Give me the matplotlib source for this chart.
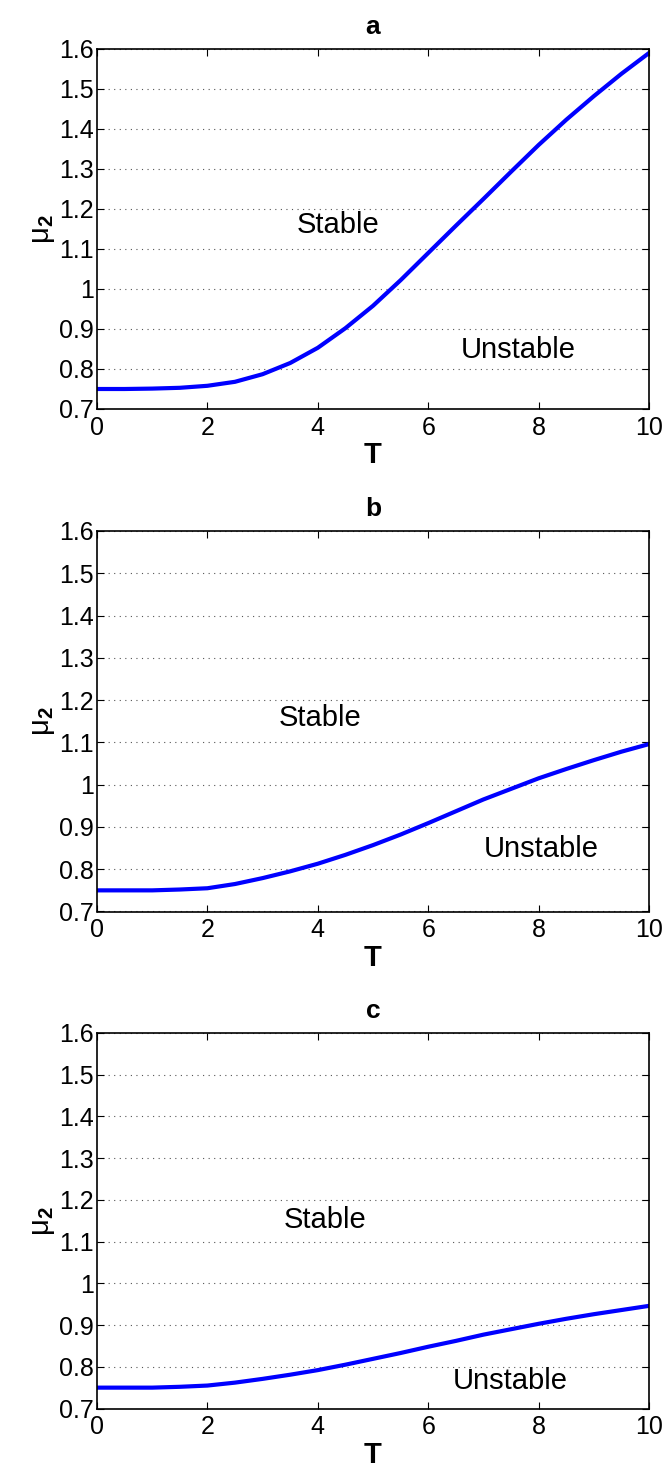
import numpy as np
import matplotlib.pyplot as plt

plt.rcParams['font.family'] = ['Liberation Sans', 'DejaVu Sans']
plt.rcParams['mathtext.fontset'] = 'custom'
plt.rcParams['mathtext.rm'] = 'Liberation Sans'
plt.rcParams['mathtext.bf'] = 'Liberation Sans:bold'

# Data (T in steps of 0.5)
T = [0, 0.5, 1, 1.5, 2, 2.5, 3, 3.5, 4, 4.5, 5, 5.5, 6, 6.5, 7, 7.5, 8, 8.5, 9, 9.5, 10]
mu2_a = [0.750, 0.750, 0.751, 0.753, 0.758, 0.768, 0.787, 0.815, 0.853, 0.902, 0.958,
         1.022, 1.090, 1.158, 1.225, 1.293, 1.360, 1.423, 1.482, 1.538, 1.590]
mu2_b = [0.750, 0.750, 0.750, 0.752, 0.755, 0.765, 0.779, 0.795, 0.813, 0.834, 0.857,
         0.882, 0.909, 0.937, 0.965, 0.990, 1.015, 1.037, 1.058, 1.078, 1.096]
mu2_c = [0.750, 0.750, 0.750, 0.752, 0.755, 0.762, 0.771, 0.781, 0.792, 0.805, 0.819,
         0.833, 0.848, 0.862, 0.877, 0.890, 0.903, 0.915, 0.926, 0.936, 0.946]

panel_titles = ['a', 'b', 'c']
stable_pos = [(4.37, 1.16), (4.05, 1.157), (4.13, 1.151)]
unstable_pos = [(7.63, 0.848), (8.05, 0.848), (7.48, 0.766)]
yticks = [0.7, 0.8, 0.9, 1.0, 1.1, 1.2, 1.3, 1.4, 1.5, 1.6]
yticklabels = ['0.7', '0.8', '0.9', '1', '1.1', '1.2', '1.3', '1.4', '1.5', '1.6']
xticks = [0, 2, 4, 6, 8, 10]

fig = plt.figure(figsize=(6.68, 14.72), dpi=100)
W, H = 668, 1472
# axes boxes in pixels: (top, bottom)
boxes = [(49, 409), (531, 911.5), (1033, 1408.5)]
left, right = 97, 649

for i, mu in enumerate([mu2_a, mu2_b, mu2_c]):
    top, bot = boxes[i]
    ax = fig.add_axes([left / W, 1 - bot / H, (right - left) / W, (bot - top) / H])
    ax.plot(T, mu, color='#0000ff', linewidth=3.0)
    ax.set_xlim(0, 10)
    ax.set_ylim(0.7, 1.6)
    ax.set_xticks(xticks)
    ax.set_yticks(yticks)
    ax.set_yticklabels(yticklabels)
    ax.tick_params(direction='in', top=True, right=True, length=5, width=0.8,
                   labelsize=18, pad=2)
    ax.tick_params(axis='x', pad=5)
    ax.yaxis.grid(True, linestyle=(0, (1, 4)), color='#555555', linewidth=0.8)
    for sp in ax.spines.values():
        sp.set_linewidth(1.2)
    ax.set_title(panel_titles[i], fontsize=19, fontweight='bold', pad=11)
    ax.set_xlabel('T', fontsize=21, fontweight='bold', labelpad=1)
    ax.set_ylabel(r'μ$_{\mathbf{2}}$', fontsize=21, labelpad=2)
    ax.text(*stable_pos[i], 'Stable', fontsize=21, ha='center', va='center')
    ax.text(*unstable_pos[i], 'Unstable', fontsize=21, ha='center', va='center')

fig.savefig('out.png', dpi=100)
